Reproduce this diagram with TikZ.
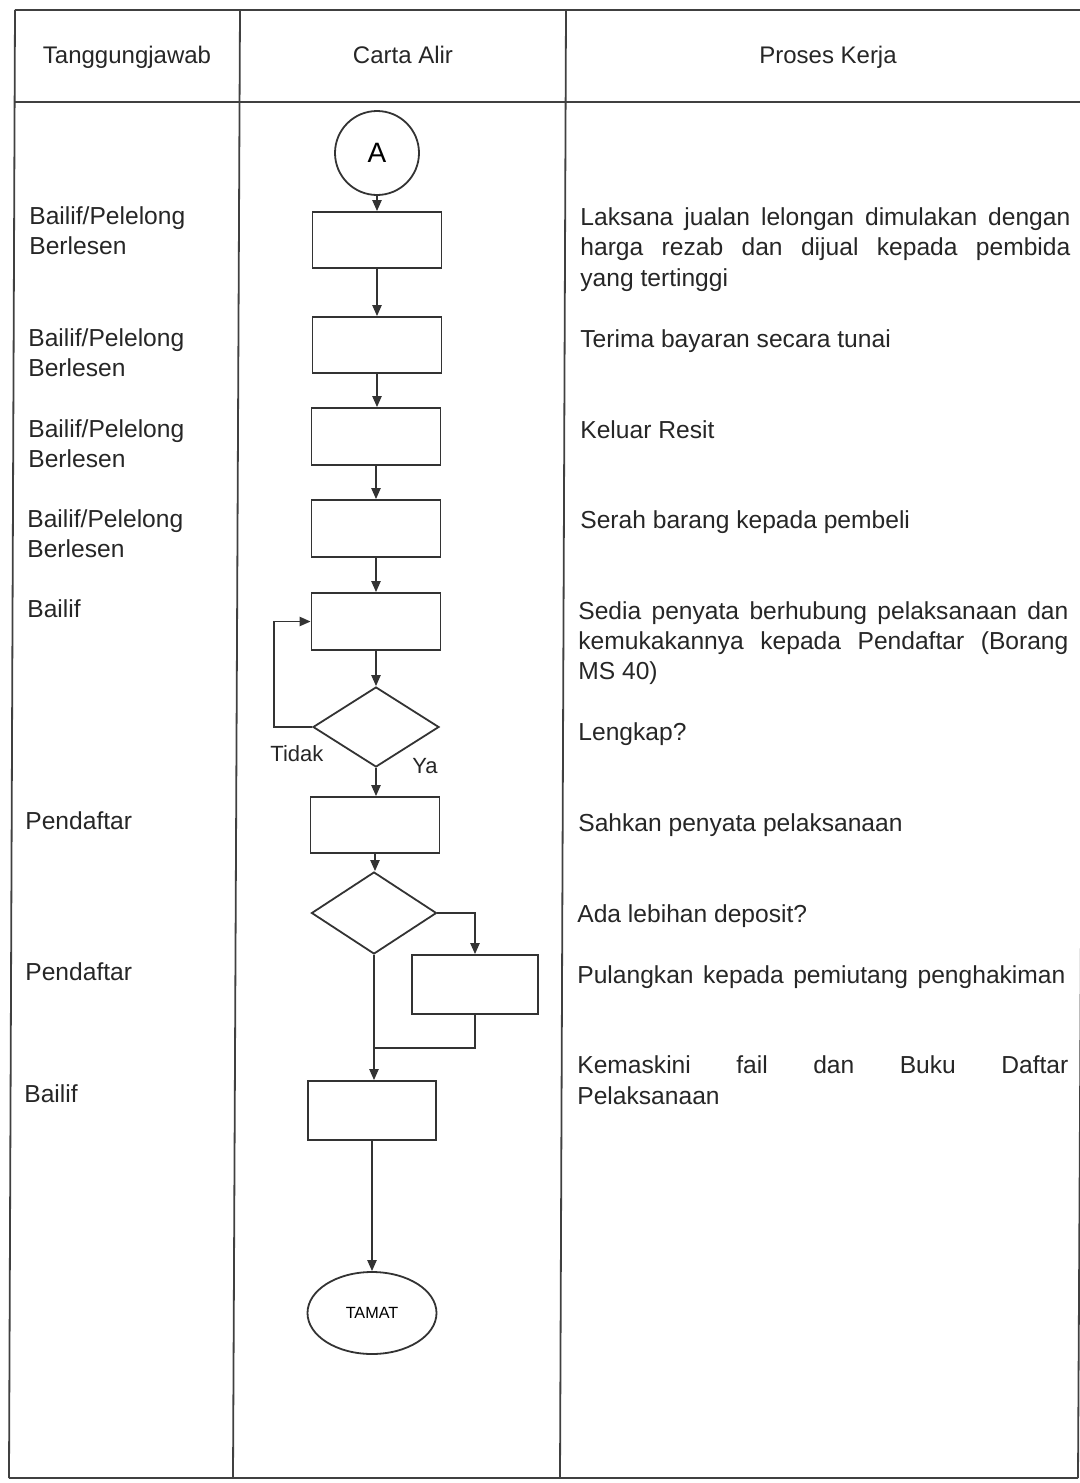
\documentclass[tikz,border=0pt]{standalone}
\usepackage{fontspec}
\setmainfont{Liberation Sans}
\usetikzlibrary{arrows.meta,shapes.geometric}
\begin{document}
\begin{tikzpicture}[x=0.5pt,y=-0.5pt,
  grid/.style={draw=black!75, line width=0.9pt},
  line/.style={draw=black!80, line width=0.9pt},
  arr/.style={line, -{Triangle[length=5.5pt,width=4.6pt]}},
  box/.style={draw=black!80, line width=0.9pt, rectangle, inner sep=0pt, minimum width=64.5pt, minimum height=28pt},
  dec/.style={draw=black!80, line width=0.9pt, diamond, inner sep=0pt, minimum width=63pt, minimum height=40pt},
  txt/.style={anchor=base west, inner sep=0pt, font=\fontsize{12.3}{15}\selectfont, text=black!85},
  head/.style={anchor=base, inner sep=0pt, font=\fontsize{12}{14}\selectfont, text=black!85},
  lbl/.style={anchor=base west, inner sep=0pt, font=\fontsize{11}{13}\selectfont, text=black!85}
]
\useasboundingbox (0,0) rectangle (1080,1483);

% table
\draw[grid] (15,10) -- (1086,10);
\draw[grid] (15,102) -- (1085,102);
\draw[grid] (15,10) -- (9,1478);
\draw[grid] (240,10) -- (233,1478);
\draw[grid] (566,10) -- (560,1478);
\draw[grid] (1086,10) -- (1078,1478);
\draw[grid] (9,1478) -- (1078,1478);

% headers
\node[head] (h1) at (127,63) {Tanggungjawab};
\node[head] (h2) at (403,63) {Carta Alir};
\node[head] (h3) at (828,63) {Proses Kerja};

% flowchart
\node[circle, draw=black!80, line width=0.9pt, minimum size=42pt, inner sep=0pt, font=\fontsize{14}{16}\selectfont] (A) at (377,153) {A};
\node[box] (b1) at (377,240) {};
\node[box] (b2) at (377,345) {};
\node[box, minimum height=28.5pt] (b3) at (376,436.5) {};
\node[box, minimum height=28.5pt] (b4) at (376,528.5) {};
\node[box, minimum height=28.5pt] (b5) at (376,621.5) {};
\node[dec] (d1) at (376,727) {};
\node[box] (b6) at (375,825) {};
\node[dec, minimum width=62.5pt, minimum height=41pt] (d2) at (374,913) {};
\node[box, minimum width=63pt, minimum height=29.5pt] (b7) at (475,984.5) {};
\node[box, minimum width=64pt, minimum height=29.5pt] (b8) at (372,1110.5) {};
\node[ellipse, draw=black!80, line width=0.9pt, minimum width=64.5pt, minimum height=41pt, inner sep=0pt, font=\fontsize{8.1}{10}\selectfont] (E) at (372,1313) {TAMAT};

\coordinate (l1) at (274,727);
\coordinate (j1) at (374,1048);

\draw[arr] (A.south) -- (A.south |- b1.north);
\draw[arr] (b1.south) -- (b1.south |- b2.north);
\draw[arr] (b2.south) -- (b2.south |- b3.north);
\draw[arr] (b3.south) -- (b3.south |- b4.north);
\draw[arr] (b4.south) -- (b4.south |- b5.north);
\draw[arr] (b5.south) -- (d1.north);
\draw[arr] (d1.west) -- (l1) |- (b5.west);
\draw[arr] (d1.south) -- (d1.south |- b6.north);
\draw[arr] (b6.south) -- (b6.south |- d2.north);
\draw[arr] (d2.east) -| (b7.north);
\draw[arr] (d2.south) -- (d2.south |- b8.north);
\draw[line] (b7.south) |- (j1);
\draw[arr] (b8.south) -- (b8.south |- E.north);

\node[lbl] (tidak) at (270,761) {Tidak};
\node[lbl] (ya) at (412,773) {Ya};

% left column
\node[txt] (r1a) at (29,224) {Bailif/Pelelong};
\node[txt] (r1b) at (29,254) {Berlesen};
\node[txt] (r2a) at (28,346) {Bailif/Pelelong};
\node[txt] (r2b) at (28,376) {Berlesen};
\node[txt] (r3a) at (28,437) {Bailif/Pelelong};
\node[txt] (r3b) at (28,467) {Berlesen};
\node[txt] (r4a) at (27,527) {Bailif/Pelelong};
\node[txt] (r4b) at (27,557) {Berlesen};
\node[txt] (r5) at (27,617) {Bailif};
\node[txt] (r6) at (25,829) {Pendaftar};
\node[txt] (r7) at (25,980) {Pendaftar};
\node[txt] (r8) at (24,1102) {Bailif};

% right column
\node[txt] (p1a) at (580,225) {\makebox[245pt][s]{Laksana jualan lelongan dimulakan dengan}};
\node[txt] (p1b) at (580,255) {\makebox[245pt][s]{harga rezab dan dijual kepada pembida}};
\node[txt] (p1c) at (580,286) {yang tertinggi};
\node[txt] (p2) at (580,347) {Terima bayaran secara tunai};
\node[txt] (p3) at (580,438) {Keluar Resit};
\node[txt] (p4) at (580,528) {Serah barang kepada pembeli};
\node[txt] (p5a) at (578,619) {\makebox[245pt][s]{Sedia penyata berhubung pelaksanaan dan}};
\node[txt] (p5b) at (578,649) {\makebox[245pt][s]{kemukakannya kepada Pendaftar (Borang}};
\node[txt] (p5c) at (578,679) {MS 40)};
\node[txt] (p6) at (578,740) {Lengkap?};
\node[txt] (p7) at (578,831) {Sahkan penyata pelaksanaan};
\node[txt] (p8) at (577,922) {Ada lebihan deposit?};
\node[txt] (p9) at (577,983) {\makebox[244pt][s]{Pulangkan kepada pemiutang penghakiman}};
\node[txt] (p10a) at (577,1073) {\makebox[245.5pt][s]{Kemaskini fail dan Buku Daftar}};
\node[txt] (p10b) at (577,1104) {Pelaksanaan};
\end{tikzpicture}
\end{document}
